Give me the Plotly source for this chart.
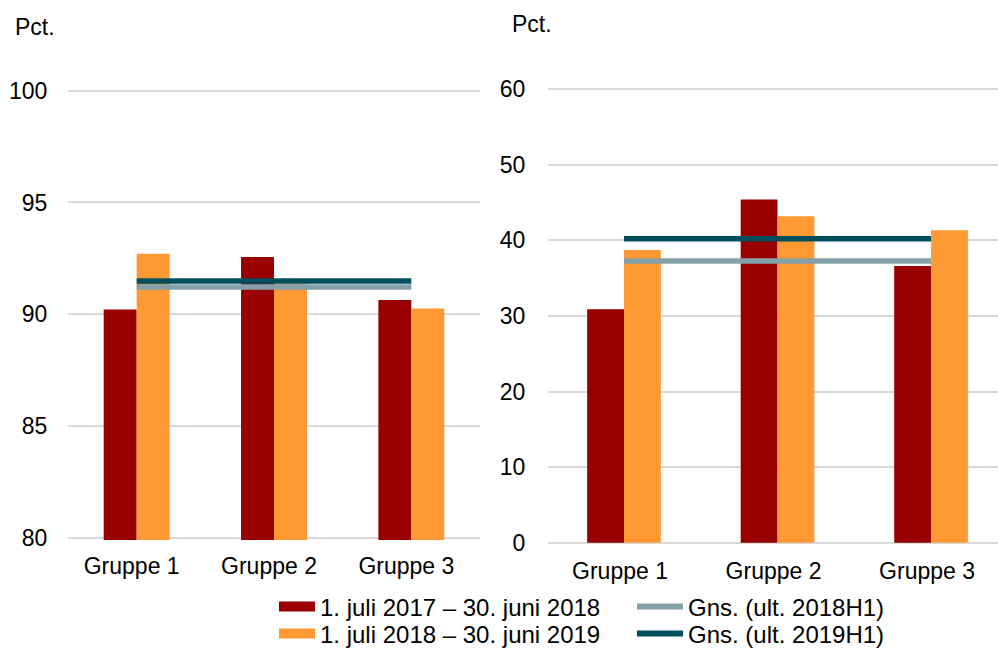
import plotly.graph_objects as go

# Categories and series
groups = ["Gruppe 1", "Gruppe 2", "Gruppe 3"]

# Left panel (pct., 80-100 scale)
left_2017_18 = [90.21, 92.56, 90.64]
left_2018_19 = [92.71, 91.37, 90.25]
left_avg_2018h1 = 91.22
left_avg_2019h1 = 91.49

# Right panel (pct., 0-60 scale)
right_2017_18 = [30.88, 45.42, 36.60]
right_2018_19 = [38.72, 43.21, 41.36]
right_avg_2018h1 = 37.27
right_avg_2019h1 = 40.21

series_names = [
    "1. juli 2017 – 30. juni 2018",
    "1. juli 2018 – 30. juni 2019",
    "Gns. (ult. 2018H1)",
    "Gns. (ult. 2019H1)",
]
left_ticks = [80, 85, 90, 95, 100]
right_ticks = [0, 10, 20, 30, 40, 50, 60]

C_DARKRED = "#990000"
C_ORANGE = "#FF9933"
C_LIGHT = "#84A1AA"
C_TEAL = "#004F5E"
GRID = "#D9D9D9"
FONT = "Liberation Sans, Arial, sans-serif"
W, H = 998, 648

fig = go.Figure()

panels = [
    ("x", "y", left_2017_18, left_2018_19, left_avg_2018h1, left_avg_2019h1),
    ("x2", "y2", right_2017_18, right_2018_19, right_avg_2018h1, right_avg_2019h1),
]
for xa, ya, s1, s2, a1, a2 in panels:
    fig.add_trace(go.Bar(x=groups, y=s1, marker_color=C_DARKRED, marker_line_width=0,
                         xaxis=xa, yaxis=ya, showlegend=False, name=series_names[0]))
    fig.add_trace(go.Bar(x=groups, y=s2, marker_color=C_ORANGE, marker_line_width=0,
                         xaxis=xa, yaxis=ya, showlegend=False, name=series_names[1]))
    fig.add_trace(go.Scatter(x=[groups[0], groups[-1]], y=[a1, a1], mode="lines",
                             line=dict(color=C_LIGHT, width=5.5), xaxis=xa, yaxis=ya,
                             showlegend=False, name=series_names[2]))
    fig.add_trace(go.Scatter(x=[groups[0], groups[-1]], y=[a2, a2], mode="lines",
                             line=dict(color=C_TEAL, width=5.5), xaxis=xa, yaxis=ya,
                             showlegend=False, name=series_names[3]))

# Legend entries: one small legend per entry, arranged in two columns
legend_keys = [
    (series_names[0], C_DARKRED, 10, "legend", 274, 607, 36),
    (series_names[1], C_ORANGE, 10, "legend2", 274, 634, 36),
    (series_names[2], C_LIGHT, 6, "legend3", 632, 607, 46),
    (series_names[3], C_TEAL, 6, "legend4", 632, 634, 46),
]
legend_layout = {}
for name, color, w, lg, px, py, iw in legend_keys:
    fig.add_trace(go.Scatter(x=[None], y=[None], mode="lines", name=name,
                             line=dict(color=color, width=w), legend=lg,
                             xaxis="x2", yaxis="y2", showlegend=True))
    legend_layout[lg] = dict(x=px / W, y=(H - py) / H, xanchor="left", yanchor="middle",
                             orientation="v", bgcolor="rgba(0,0,0,0)",
                             font=dict(family=FONT, size=24, color="#000000"),
                             itemwidth=iw)

axis_font = dict(family=FONT, size=23, color="#000000")

fig.update_layout(
    width=W, height=H,
    margin=dict(l=0, r=0, t=0, b=0, autoexpand=False),
    paper_bgcolor="white", plot_bgcolor="white",
    font=dict(family=FONT, size=23, color="#000000"),
    barmode="group", bargap=0.52, bargroupgap=0,
    xaxis=dict(domain=[68 / W, 480 / W], range=[-0.5, 2.5], anchor="y",
               showgrid=False, zeroline=False, showline=False, automargin=False,
               ticks="outside", ticklen=0, tickfont=axis_font, ticklabelstandoff=5,
               ticklabelshift=-5),
    yaxis=dict(domain=[(H - 539.9) / H, (H - 88.5) / H], range=[79.9, 100.1], anchor="x",
               tickvals=left_ticks, showgrid=True, gridcolor=GRID, gridwidth=1.5,
               zeroline=False, showline=False, automargin=False, ticks="outside",
               ticklen=0, tickfont=axis_font, ticklabelstandoff=15),
    xaxis2=dict(domain=[548 / W, 1.0], range=[-0.495, 2.436], anchor="y2",
                showgrid=False, zeroline=False, showline=False, automargin=False,
                ticks="outside", ticklen=0, tickfont=axis_font, ticklabelstandoff=5,
                ticklabelshift=-4),
    yaxis2=dict(domain=[(H - 545.0) / H, (H - 87.0) / H], range=[-0.3, 60.3], anchor="x2",
                tickvals=right_ticks, showgrid=True, gridcolor=GRID, gridwidth=1.5,
                zeroline=False, showline=False, automargin=False, ticks="outside",
                ticklen=0, tickfont=axis_font, ticklabelstandoff=17),
    annotations=[
        dict(text="Pct.", x=13 / W, y=(H - 27) / H, xref="paper", yref="paper",
             xanchor="left", yanchor="middle", showarrow=False, font=axis_font),
        dict(text="Pct.", x=510 / W, y=(H - 24) / H, xref="paper", yref="paper",
             xanchor="left", yanchor="middle", showarrow=False, font=axis_font),
    ],
    **legend_layout,
)

fig.write_html("out.html")
